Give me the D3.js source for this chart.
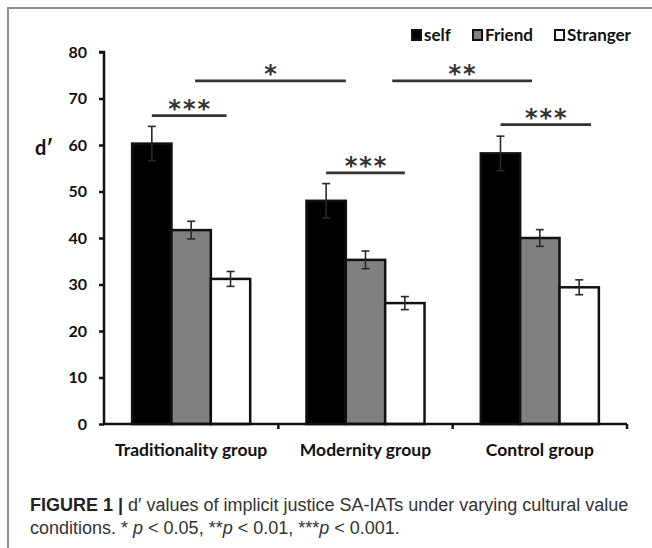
<!DOCTYPE html>
<html>
<head>
<meta charset="utf-8">
<script src="https://cdn.jsdelivr.net/npm/d3@7/dist/d3.min.js"></script>
<style>
  body { margin: 0; background: #fff; }
  svg { display: block; }
  .tick-label { font-family: Lato, "Open Sans", sans-serif; font-weight: 700; fill: #111; }
  .caption { font-family: "Liberation Sans", Arial, sans-serif; fill: #333; }
</style>
</head>
<body>
<div id="container"></div>
<script>
// data
var groups = ["Traditionality group", "Modernity group", "Control group"];
var series = ["self", "Friend", "Stranger"];
var means = [
  [60.3, 41.7, 31.2],
  [48.0, 35.3, 26.0],
  [58.2, 40.0, 29.4]
];
var errors = [
  [3.7, 1.9, 1.6],
  [3.7, 1.9, 1.4],
  [3.7, 1.8, 1.6]
];
var yTicks = [0, 10, 20, 30, 40, 50, 60, 70, 80];
// significance lines: [group, series, fraction across bar] -> [group, series, fraction], height, stars
var sigs = [
  {from: [0, 0, 0.5], to: [0, 2, 0.4], y: 66.3, label: "***"},
  {from: [1, 0, 0.5], to: [1, 2, 0.5], y: 54.0, label: "***"},
  {from: [2, 0, 0.5], to: [2, 2, 0.8], y: 64.4, label: "***"},
  {from: [0, 1, 0.6], to: [1, 0, 1.0], y: 73.8, label: "*"},
  {from: [1, 2, 0.18], to: [2, 1, 0.3], y: 73.8, label: "**"}
];
var fills = ["#000000", "#808080", "#ffffff"];

var width = 652,
    height = 548;
var svg = d3.select('#container').append('svg')
    .attr("width", width)
    .attr("height", height);

// outer frame
svg.append("path")
    .attr("d", "M8,548 V8 H652")
    .attr("fill", "none")
    .attr("stroke", "#8f8f8f")
    .attr("stroke-width", 2);

var y = d3.scaleLinear().domain([0, 80]).range([424, 52]);
var x0 = d3.scaleBand().domain(groups).range([104, 627]).padding(0);
var x1 = d3.scaleBand().domain(series).range([0, x0.bandwidth()])
    .paddingInner(0).paddingOuter(0.715);

// y axis
var yAxis = svg.append("g")
    .attr("transform", "translate(104,0)")
    .call(d3.axisLeft(y).tickValues(yTicks).tickSize(5).tickPadding(12));
yAxis.select(".domain").attr("stroke", "#111").attr("stroke-width", 2.5)
    .attr("d", "M-5," + y(80) + "H0V" + y(0));
yAxis.selectAll(".tick line").attr("stroke", "#111").attr("stroke-width", 2.5);
yAxis.selectAll(".tick text").attr("class", "tick-label").style("font-size", "16px");

svg.append("text")
    .attr("class", "tick-label")
    .attr("x", 35)
    .attr("y", y(59.3) + 7)
    .style("font-size", "20px")
    .text("d\u2032");

// bars
var gGroup = svg.append("g").selectAll("g")
    .data(groups)
    .enter().append("g")
    .attr("transform", function(d) { return "translate(" + x0(d) + ",0)"; });

function rows(d, i) {
  return series.map(function(s, j) { return {s: s, v: means[i][j], e: errors[i][j], j: j}; });
}

gGroup.selectAll("rect")
    .data(rows)
    .enter().append("rect")
    .attr("x", function(d) { return x1(d.s); })
    .attr("width", x1.bandwidth())
    .attr("y", function(d) { return y(d.v); })
    .attr("height", function(d) { return y(0) - y(d.v); })
    .attr("fill", function(d) { return fills[d.j]; })
    .attr("stroke", "#111")
    .attr("stroke-width", 2.5);

// error bars
var eb = gGroup.selectAll("g.err")
    .data(rows)
    .enter().append("g")
    .attr("class", "err")
    .attr("stroke", "#2a2a2a")
    .attr("stroke-width", 1.6);
eb.append("line")
    .attr("x1", function(d) { return x1(d.s) + x1.bandwidth() / 2; })
    .attr("x2", function(d) { return x1(d.s) + x1.bandwidth() / 2; })
    .attr("y1", function(d) { return y(d.v + d.e); })
    .attr("y2", function(d) { return y(d.v - d.e); });
eb.selectAll("line.cap")
    .data(function(d) { return [d.v + d.e, d.v - d.e].map(function(v) { return {s: d.s, v: v}; }); })
    .enter().append("line")
    .attr("class", "cap")
    .attr("x1", function(d) { return x1(d.s) + x1.bandwidth() / 2 - 4; })
    .attr("x2", function(d) { return x1(d.s) + x1.bandwidth() / 2 + 4; })
    .attr("y1", function(d) { return y(d.v); })
    .attr("y2", function(d) { return y(d.v); });

// x axis
svg.append("line")
    .attr("x1", 104).attr("x2", 627)
    .attr("y1", y(0)).attr("y2", y(0))
    .attr("stroke", "#111").attr("stroke-width", 2.5);
svg.append("g").selectAll("line")
    .data(groups)
    .enter().append("line")
    .attr("x1", function(d) { return x0(d) + x0.bandwidth(); })
    .attr("x2", function(d) { return x0(d) + x0.bandwidth(); })
    .attr("y1", y(0)).attr("y2", y(0) + 5)
    .attr("stroke", "#111").attr("stroke-width", 2.5);
svg.append("g").selectAll("text")
    .data(groups)
    .enter().append("text")
    .attr("class", "tick-label")
    .attr("x", function(d) { return x0(d) + x0.bandwidth() / 2; })
    .attr("y", y(0) + 32)
    .attr("text-anchor", "middle")
    .style("font-size", "17.5px")
    .text(function(d) { return d; });

// significance
function bx(p) {
  return x0(groups[p[0]]) + x1(series[p[1]]) + x1.bandwidth() * p[2];
}
var sg = svg.append("g").selectAll("g")
    .data(sigs)
    .enter().append("g");
sg.append("line")
    .attr("x1", function(d) { return bx(d.from); })
    .attr("x2", function(d) { return bx(d.to); })
    .attr("y1", function(d) { return y(d.y); })
    .attr("y2", function(d) { return y(d.y); })
    .attr("stroke", "#333").attr("stroke-width", 2.8);
sg.append("text")
    .attr("x", function(d) { return (bx(d.from) + bx(d.to)) / 2 + 1; })
    .attr("y", function(d) { return y(d.y) + 1; })
    .attr("text-anchor", "middle")
    .attr("fill", "#333")
    .style("font-family", "'DejaVu Sans', sans-serif")
    .style("font-weight", 700)
    .style("font-size", "24px")
    .style("letter-spacing", "2px")
    .text(function(d) { return d.label; });

// legend
var legendX = [412, 473, 555];
var lg = svg.append("g").selectAll("g")
    .data(series)
    .enter().append("g");
lg.append("rect")
    .attr("x", function(d, i) { return legendX[i]; })
    .attr("y", 30)
    .attr("width", 9).attr("height", 10)
    .attr("fill", function(d, i) { return fills[i]; })
    .attr("stroke", "#111").attr("stroke-width", 2);
lg.append("text")
    .attr("class", "tick-label")
    .attr("x", function(d, i) { return legendX[i] + 12; })
    .attr("y", 41)
    .style("font-size", "17px")
    .text(function(d) { return d; });

// caption
var cap1 = svg.append("text").attr("class", "caption")
    .attr("x", 30).attr("y", 511).style("font-size", "18px");
cap1.append("tspan").style("font-weight", 700).attr("fill", "#222").text("FIGURE 1 | ");
cap1.append("tspan").text("d\u2032 values of implicit justice SA-IATs under varying cultural value");
var cap2 = svg.append("text").attr("class", "caption")
    .attr("x", 30).attr("y", 534).style("font-size", "18px");
cap2.append("tspan").text("conditions. * ");
cap2.append("tspan").style("font-style", "italic").text("p");
cap2.append("tspan").text(" < 0.05, **");
cap2.append("tspan").style("font-style", "italic").text("p");
cap2.append("tspan").text(" < 0.01, ***");
cap2.append("tspan").style("font-style", "italic").text("p");
cap2.append("tspan").text(" < 0.001.");
</script>
</body>
</html>
